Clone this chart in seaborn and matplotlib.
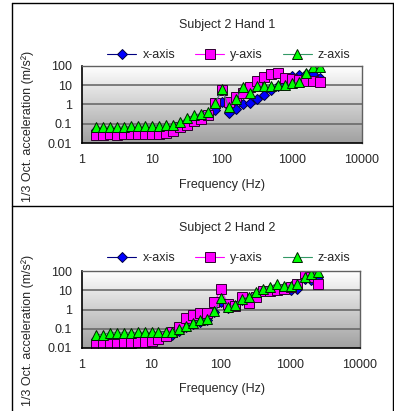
import numpy as np
import pandas as pd
import matplotlib
matplotlib.use("Agg")
import matplotlib.pyplot as plt
import seaborn as sns
from matplotlib.colors import LinearSegmentedColormap
from matplotlib.lines import Line2D

sns.set_style("white")
plt.rcParams['font.family'] = ['Liberation Sans', 'DejaVu Sans']

freq = [1.6, 2, 2.5, 3.15, 4, 5, 6.3, 8, 10, 12.5, 16, 20, 25, 31.5, 40, 50, 63,
        80, 100, 125, 160, 200, 250, 315, 400, 500, 630, 800, 1000, 1250, 1600, 2000, 2500]

h1_x = [0.045, 0.045, 0.045, 0.045, 0.045, 0.045, 0.048, 0.048, 0.05, 0.05, 0.05,
        0.055, 0.07, 0.1, 0.15, 0.2, 0.3, 0.5, 1.3, 0.37, 0.58, 1.0, 1.2, 1.9, 3.0,
        6, 9, 12, 30, 33, 40, 38, 23]
h1_y = [0.025, 0.027, 0.028, 0.025, 0.028, 0.029, 0.03, 0.03, 0.03, 0.03, 0.032,
        0.04, 0.065, 0.09, 0.14, 0.18, 0.27, 1.2, 5.5, 1.4, 2.4, 4, 8, 17, 28,
        37, 42, 23, 21, 19, 17, 17, 14]
h1_z = [0.065, 0.065, 0.07, 0.065, 0.07, 0.075, 0.075, 0.075, 0.08, 0.08, 0.085,
        0.09, 0.12, 0.19, 0.28, 0.34, 0.42, 1.15, 6.3, 0.7, 1.9, 8.3, 4.2, 9, 9,
        9, 10, 10, 12.6, 15, 45, 90, 90]

h2_x = [0.028, 0.028, 0.03, 0.03, 0.03, 0.032, 0.035, 0.035, 0.035, 0.037, 0.04,
        0.05, 0.08, 0.12, 0.18, 0.22, 0.28, 0.7, 2.4, 1.2, 1.5, 3, 3.5, 6, 9,
        12, 14, 13, 10, 12, 40, 33, 50]
h2_y = [0.015, 0.015, 0.017, 0.017, 0.019, 0.018, 0.02, 0.021, 0.023, 0.029, 0.043,
        0.065, 0.12, 0.35, 0.52, 0.64, 0.64, 2.4, 11, 2, 1.6, 4.5, 2.3, 4.3, 9,
        9.5, 10, 11, 15, 22, 75, 50, 22]
h2_z = [0.05, 0.05, 0.062, 0.062, 0.062, 0.062, 0.065, 0.065, 0.065, 0.065, 0.068,
        0.07, 0.1, 0.14, 0.21, 0.27, 0.31, 0.8, 3.8, 1.3, 1.8, 3.6, 4.5, 8, 12,
        15, 22, 17, 17, 20, 48, 70, 90]

titles = ["Subject 2 Hand 1", "Subject 2 Hand 2"]
series_names = ["x-axis", "y-axis", "z-axis"]
xticks = [1, 10, 100, 1000, 10000]
xticklabels = ["1", "10", "100", "1000", "10000"]
yticks = [0.01, 0.1, 1, 10, 100]
yticklabels = ["0.01", "0.1", "1", "10", "100"]
xlabel = "Frequency (Hz)"
ylabel = "1/3 Oct. acceleration (m/s²)"

styles = {
    "x-axis": dict(color="#000080", marker="D", markerfacecolor="#0000FF",
                   markeredgecolor="#000040", markersize=5.0),
    "y-axis": dict(color="#FF00FF", marker="s", markerfacecolor="#FF00FF",
                   markeredgecolor="#300030", markersize=6.6),
    "z-axis": dict(color="#339966", marker="^", markerfacecolor="#00FF00",
                   markeredgecolor="#002000", markersize=7.2),
}

W, H = 394, 411
fig = plt.figure(figsize=(W / 100, H / 100), dpi=100)

def fx(px):
    return px / W

def fy(py):
    return 1 - py / H

grad_cmap = LinearSegmentedColormap.from_list("g", ["#FFFFFF", "#A0A0A0"])
grad = np.linspace(0, 1, 256).reshape(-1, 1)

panels = [
    dict(data=(h1_x, h1_y, h1_z), left=82, right=362, top=66, bottom=143,
         title_y=25, legend_y=55, ylab_y=126, xlab_y=185),
    dict(data=(h2_x, h2_y, h2_z), left=82, right=360, top=271, bottom=348,
         title_y=228, legend_y=258, ylab_y=330, xlab_y=389),
]

for i, p in enumerate(panels):
    pos = [fx(p["left"]), fy(p["bottom"]), fx(p["right"] - p["left"]),
           (p["bottom"] - p["top"]) / H]
    bg = fig.add_axes(pos, zorder=0)
    bg.imshow(grad, aspect="auto", cmap=grad_cmap, extent=(0, 1, 0, 1))
    bg.axis("off")

    ax = fig.add_axes(pos, zorder=1)
    ax.set_facecolor("none")
    df = pd.DataFrame({"freq": freq, "x-axis": p["data"][0],
                       "y-axis": p["data"][1], "z-axis": p["data"][2]})
    for name in series_names:
        sns.lineplot(data=df, x="freq", y=name, ax=ax, label=name,
                     linewidth=0.8, markeredgewidth=0.7, **styles[name])
    ax.set_xscale("log")
    ax.set_yscale("log")
    ax.set_xlim(1, 10000)
    ax.set_ylim(0.01, 100)
    ax.set_xticks(xticks)
    ax.set_xticklabels(xticklabels)
    ax.set_yticks(yticks)
    ax.set_yticklabels(yticklabels)
    ax.minorticks_off()
    ax.tick_params(axis="both", which="major", direction="out", length=3,
                   width=1, color="black", labelsize=9, pad=2)
    ax.tick_params(axis="x", pad=5)
    ax.tick_params(axis="y", pad=4)
    ax.set_xlabel("")
    ax.set_ylabel("")
    for v in [0.1, 1, 10]:
        ax.axhline(v, color="#6A6A6A", linewidth=1.2, zorder=0.5)
    for s in ["left", "bottom"]:
        ax.spines[s].set_color("black")
        ax.spines[s].set_linewidth(1.2)
    for s in ["top", "right"]:
        ax.spines[s].set_color("#606060")
        ax.spines[s].set_linewidth(1.0)

    ax.legend(loc="center", bbox_to_anchor=(fx(229), fy(p["legend_y"])),
              bbox_transform=fig.transFigure, ncol=3, frameon=False,
              fontsize=9, handlelength=2.3, handletextpad=0.5,
              columnspacing=1.6, borderpad=0, borderaxespad=0)

    fig.text(fx(227), fy(p["title_y"]), titles[i], ha="center", va="center",
             fontsize=9)
    fig.text(fx(222), fy(p["xlab_y"]), xlabel, ha="center", va="center",
             fontsize=9)
    fig.text(fx(28), fy(p["ylab_y"]), ylabel, ha="center", va="center",
             rotation=90, fontsize=9)

# outer chart frames
frame_kw = dict(color="black", linewidth=1.0, transform=fig.transFigure)
fig.add_artist(Line2D([fx(12), fx(393)], [fy(3), fy(3)], **frame_kw))
fig.add_artist(Line2D([fx(12), fx(393)], [fy(206), fy(206)], **frame_kw))
fig.add_artist(Line2D([fx(12), fx(12)], [fy(3), fy(411)], **frame_kw))
fig.add_artist(Line2D([fx(393), fx(393)], [fy(3), fy(411)], **frame_kw))

fig.savefig("out.png", dpi=100)
